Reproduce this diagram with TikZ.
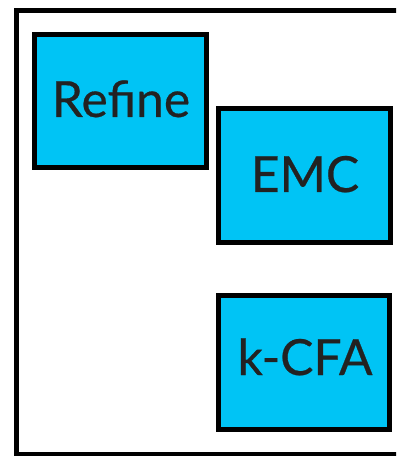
\documentclass[tikz,border=0pt]{standalone}
\usepackage{fontspec}
\setmainfont{Lato}
\newfontfamily\lblfont{Lato}[FakeBold=0.5]
\definecolor{boxfill}{RGB}{0,196,245}
\definecolor{txt}{RGB}{34,34,34}
\begin{document}
\begin{tikzpicture}[x=1bp,y=-1bp,
  modbox/.style={draw=black,line width=5bp,fill=boxfill},
  lbl/.style={anchor=base,inner sep=0pt,text=txt,font=\lblfont\fontsize{50}{60}\selectfont}]
\useasboundingbox (0,0) rectangle (396,456);
\clip (0,0) rectangle (396,456);
\draw[line width=5bp] (16.5,10.5) rectangle (420,454.5);
\draw[modbox] (34.5,34.5) rectangle (206.5,167.5);
\draw[modbox] (218.5,108.5) rectangle (390.5,242.5);
\draw[modbox] (218.5,295.5) rectangle (389.5,429.5);
\node[lbl] (refine) at (121,117) {Refine};
\node[lbl] (emc) at (305,192) {EMC};
\node[lbl] (kcfa) at (305,375) {k-CFA};
\end{tikzpicture}
\end{document}
